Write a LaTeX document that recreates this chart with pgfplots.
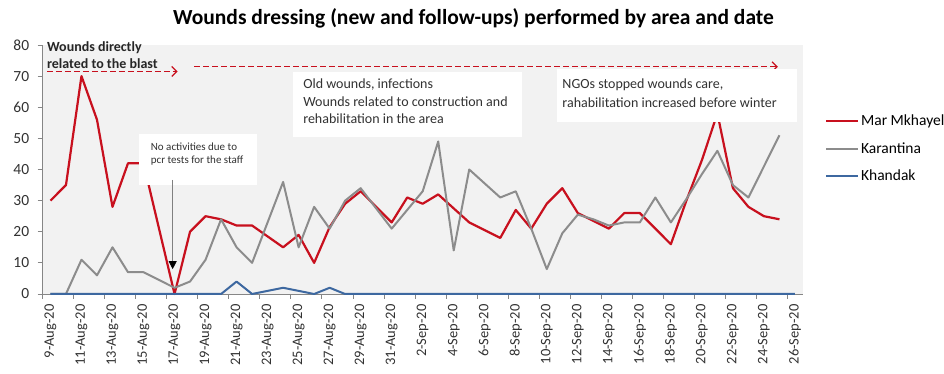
\documentclass[border=0pt]{standalone}
\usepackage{fontspec}
\setmainfont{Carlito}
\usepackage{pgfplots}
\usepackage{pgfplotstable}
\pgfplotsset{compat=1.18}
\usetikzlibrary{arrows.meta}
\definecolor{redM}{RGB}{200,16,30}
\definecolor{grayK}{RGB}{140,140,140}
\definecolor{blueK}{RGB}{61,104,160}
\definecolor{bg}{RGB}{242,242,242}
\definecolor{axisgray}{RGB}{134,134,134}
\definecolor{txt}{RGB}{50,50,50}

\pgfplotstableread{
i red gray blue
0 30 0 0
1 35 0 0
2 70 11 0
3 56 6 0
4 28 15 0
5 42 7 0
6 42 7 0
7 21 4.5 0
8 0 2 0
9 20 4 0
10 25 11 0
11 24 24 0
12 22 15 4
13 22 10 0
14 18.5 23 1
15 15 36 2
16 19 15 1
17 10 28 0
18 21.5 21 2
19 29 30 0
20 33 34 0
21 28 27.5 0
22 23 21 0
23 31 27 0
24 29 33 0
25 32 49 0
26 27.5 14 0
27 23 40 0
28 20.5 35.5 0
29 18 31 0
30 27 33 0
31 21 21 0
32 29 8 0
33 34 19.5 0
34 26 25.5 0
35 23.5 24 0
36 21 22 0
37 26 23 0
38 26 23 0
39 21 31 0
40 16 23 0
41 30 30.5 0
42 43 38.5 0
43 58 46 0
44 34 35 0
45 28 31 0
46 25 41 0
47 24 51 0
48 nan nan 0
}\data

\begin{document}
\begin{tikzpicture}
\path[use as bounding box] (-42.7pt,-80pt) rectangle (901.3pt,294pt);
\begin{axis}[
  scale only axis, width=760pt, height=249pt,
  xmin=-0.5, xmax=48.5, ymin=0, ymax=80,
  axis background/.style={fill=bg},
  axis x line*=bottom, axis y line*=left,
  axis line style={axisgray, line width=0.8pt},
  tick align=outside,
  ytick={0,10,...,80},
  ytick style={axisgray, line width=0.8pt},
  major tick length=5pt,
  y tick label style={font=\fontsize{15.5}{15.5}\selectfont, text=txt, xshift=-5pt},
  /pgf/number format/assume math mode=true,
  xtick={-0.5,1.5,...,47.5},
  xticklabels={},
  xtick style={axisgray, line width=0.8pt},
  extra x ticks={0,2,...,48},
  extra x tick labels={9-Aug-20,11-Aug-20,13-Aug-20,15-Aug-20,17-Aug-20,19-Aug-20,21-Aug-20,23-Aug-20,25-Aug-20,27-Aug-20,29-Aug-20,31-Aug-20,2-Sep-20,4-Sep-20,6-Sep-20,8-Sep-20,10-Sep-20,12-Sep-20,14-Sep-20,16-Sep-20,18-Sep-20,20-Sep-20,22-Sep-20,24-Sep-20,26-Sep-20},
  extra x tick style={major tick length=0pt},
  xticklabel shift=7pt,
  x tick label style={rotate=90, anchor=east, font=\fontsize{14.5}{14.5}\selectfont, text=txt},
  clip=false,
  legend style={at={(1.025,0.735)}, anchor=north west, draw=none, fill=none,
    font=\fontsize{15.5}{18}\selectfont, row sep=11pt},
  legend cell align=left,
  legend image code/.code={\draw[#1] (0pt,0pt) -- (32pt,0pt);},
]
\addplot[redM, line width=2.2pt, line join=round] table[x=i, y=red] {\data};
\addlegendentry{Mar Mkhayel}
\addplot[grayK, line width=2pt, line join=round] table[x=i, y=gray] {\data};
\addlegendentry{Karantina}
\addplot[blueK, line width=2pt, line join=round] table[x=i, y=blue] {\data};
\addlegendentry{Khandak}

% dashed arrows
\draw[redM, line width=1.3pt, dash pattern=on 6pt off 3pt, -{Straight Barb[length=5pt,width=10pt]}] (axis cs:-0.23,71.5) -- (axis cs:8.2,71.5);
\draw[redM, line width=1.3pt, dash pattern=on 6pt off 3pt, -{Straight Barb[length=5pt,width=10pt]}] (axis cs:9.26,73) -- (axis cs:46.9,73);
\node[anchor=north west, inner sep=0pt, align=left, text=black!85, font=\bfseries\fontsize{14}{16.5}\selectfont] at (axis cs:-0.23,81) {Wounds directly\\related to the blast};

% no activities box
\fill[white] (axis cs:5.71,35) rectangle (axis cs:13.32,51.4);
\node[anchor=north west, inner sep=0pt, align=left, text=txt, font=\fontsize{11}{12.5}\selectfont] at (axis cs:6.46,48.6) {No activities due to\\pcr tests for the staff};
\draw[gray, line width=0.7pt, -{Triangle[black, width=8pt, length=8pt]}] (axis cs:7.88,36.7) -- (axis cs:7.88,8);

% old wounds box
\fill[white] (axis cs:15.65,50.5) rectangle (axis cs:30.42,71.4);
\node[anchor=north west, inner sep=0pt, align=left, text=txt, font=\fontsize{14}{17.3}\selectfont] at (axis cs:16.29,69.1) {Old wounds, infections\\Wounds related to construction and\\rehabilitation in the area};

% NGOs box
\fill[white] (axis cs:32.68,55.3) rectangle (axis cs:48.16,72.3);
\node[anchor=north west, inner sep=0pt, align=left, text=txt, font=\fontsize{14}{19}\selectfont] at (axis cs:33.0,69.1) {NGOs stopped wounds care,\\rahabilitation increased before winter};
\end{axis}
\node[font=\bfseries\fontsize{21.5}{24}\selectfont, text=black] at (430.8pt,276pt) {Wounds dressing (new and follow-ups) performed by area and date};
\end{tikzpicture}
\end{document}
